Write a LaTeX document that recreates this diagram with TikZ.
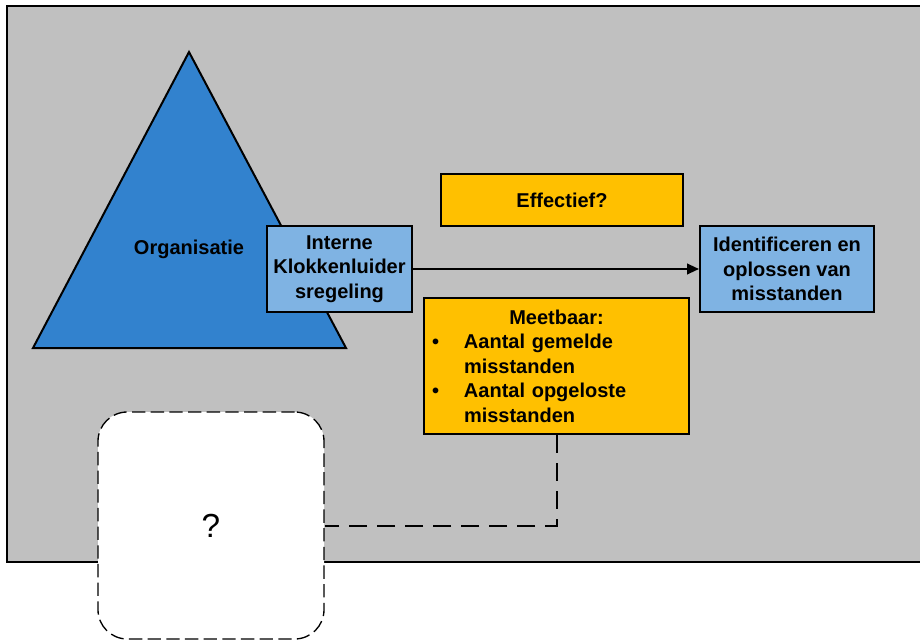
\documentclass[tikz,border=0pt]{standalone}
\usepackage{fontspec}
\setmainfont{Liberation Sans}
\usetikzlibrary{arrows.meta}

\definecolor{bgray}{RGB}{192,192,192}
\definecolor{orgblue}{RGB}{50,130,206}
\definecolor{lblue}{RGB}{127,179,227}
\definecolor{ogold}{RGB}{255,192,0}

\tikzset{
  boxfont/.style={font=\bfseries\fontsize{15}{18.4}\selectfont},
  bluebox/.style={draw, line width=1.5pt, fill=lblue, align=center, inner sep=2pt, boxfont},
  goldbox/.style={draw, line width=1.5pt, fill=ogold, align=center, inner sep=2pt, boxfont},
  openbox/.style={draw, dash pattern=on 10pt off 4pt, line width=1pt, fill=white, rounded corners=22pt},
  link/.style={line width=1.5pt, dash pattern=on 13.5pt off 7.5pt},
  flow/.style={line width=1.5pt, -{Triangle[length=9pt,width=8pt]}}
}

\begin{document}
\begin{tikzpicture}[x=0.75pt,y=-0.75pt]
    \useasboundingbox (0,0) rectangle (920,641);
    \draw[line width=1pt, fill=bgray] (7,6) rectangle (935,562); % background
    \draw[line width=1.5pt, fill=orgblue] (189,52) -- (346,348) -- (33,348) -- cycle; % organisation
    \node[boxfont] (org) at (189,249) {Organisatie};
    \node[bluebox, minimum width=108.75pt, minimum height=64.5pt] (kl) at (339.5,269) {Interne\\Klokkenluider\\sregeling}; % scheme
    \node[bluebox, minimum width=130.5pt, minimum height=64.5pt] (id) at (787,269) {Identificeren en\\oplossen van\\misstanden}; % goal
    \node[goldbox, minimum width=181.5pt, minimum height=39pt] (eff) at (562,200) {Effectief?};
    \node[goldbox, align=left, inner sep=6pt, text width=186.75pt, minimum height=102pt] (meet) at (556.5,366)
      {{\centering Meetbaar:\par}
       \noindent\makebox[24pt][l]{\textbullet}Aantal gemelde\par
       \noindent\hspace*{24pt}misstanden\par
       \noindent\makebox[24pt][l]{\textbullet}Aantal opgeloste\par
       \noindent\hspace*{24pt}misstanden}; % measurable
    \node[openbox, minimum width=169.5pt, minimum height=170.25pt, font=\fontsize{25}{30}\selectfont] (q) at (211,525.5) {?}; % unknown
    \draw[flow] (kl.east) -- (id.west); % scheme to goal
    \draw[link] (meet.south) |- (q.east); % measurable to unknown
\end{tikzpicture}
\end{document}
